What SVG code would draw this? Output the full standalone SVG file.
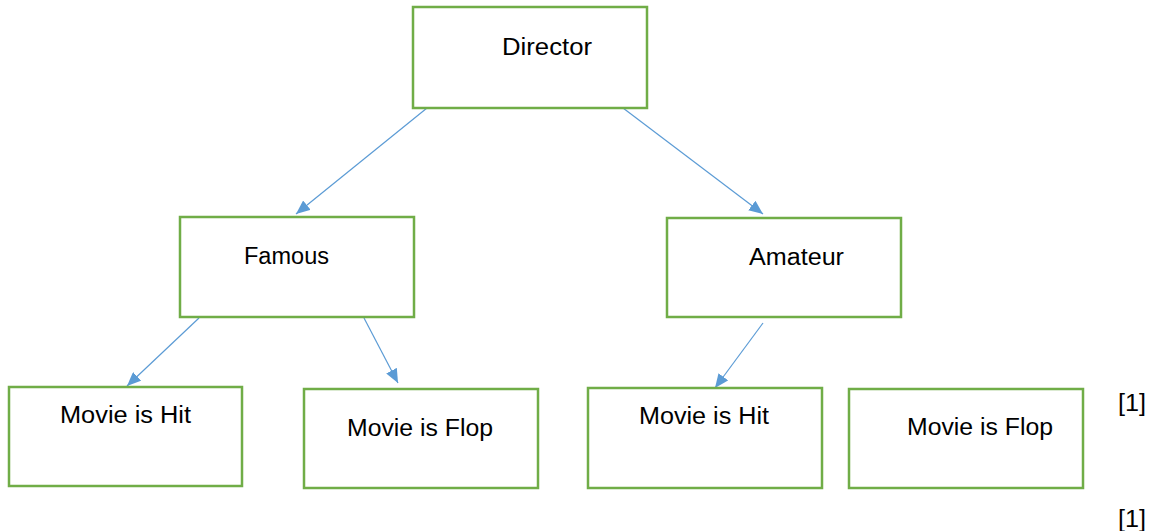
<svg xmlns="http://www.w3.org/2000/svg" width="1152" height="531" viewBox="0 0 1152 531">
<defs>
<style>
.box{fill:#ffffff;stroke:#70AD47;stroke-width:2.5}
.lbl{font-family:"Liberation Sans",Arial,sans-serif;font-size:23.5px;fill:#000000}
.edge{stroke:#5B9BD5;stroke-width:1.2;fill:none}
</style>
<marker id="ah" markerUnits="userSpaceOnUse" markerWidth="14" markerHeight="12" refX="14" refY="6" orient="auto">
<path d="M0,0 L14,6 L0,12 z" fill="#5B9BD5"/>
</marker>
</defs>
<rect width="1152" height="531" fill="#ffffff"/>
<g id="connectors">
<line class="edge" x1="427" y1="108" x2="296" y2="214" marker-end="url(#ah)"/>
<line class="edge" x1="623" y1="108" x2="763" y2="214" marker-end="url(#ah)"/>
<line class="edge" x1="199" y1="318" x2="127" y2="386" marker-end="url(#ah)"/>
<line class="edge" x1="364" y1="318" x2="398" y2="383" marker-end="url(#ah)"/>
<line class="edge" x1="763" y1="323" x2="715" y2="388" marker-end="url(#ah)"/>
</g>
<g id="director">
<rect class="box" x="413" y="7" width="234" height="101"/>
<text class="lbl" x="502" y="55" textLength="90" lengthAdjust="spacingAndGlyphs">Director</text>
</g>
<g id="famous">
<rect class="box" x="180" y="217" width="234" height="100"/>
<text class="lbl" x="244" y="264" textLength="85" lengthAdjust="spacingAndGlyphs">Famous</text>
</g>
<g id="amateur">
<rect class="box" x="667" y="218" width="234" height="99"/>
<text class="lbl" x="749" y="265" textLength="95" lengthAdjust="spacingAndGlyphs">Amateur</text>
</g>
<g id="hit1">
<rect class="box" x="9" y="387" width="233" height="99"/>
<text class="lbl" x="60" y="423" textLength="131" lengthAdjust="spacingAndGlyphs">Movie is Hit</text>
</g>
<g id="flop1">
<rect class="box" x="304" y="389" width="234" height="99"/>
<text class="lbl" x="347" y="436" textLength="146" lengthAdjust="spacingAndGlyphs">Movie is Flop</text>
</g>
<g id="hit2">
<rect class="box" x="588" y="388" width="234" height="100"/>
<text class="lbl" x="639" y="424" textLength="130" lengthAdjust="spacingAndGlyphs">Movie is Hit</text>
</g>
<g id="flop2">
<rect class="box" x="849" y="389" width="234" height="99"/>
<text class="lbl" x="907" y="435" textLength="146" lengthAdjust="spacingAndGlyphs">Movie is Flop</text>
</g>
<g id="marks">
<text class="lbl" x="1118" y="411" textLength="28" lengthAdjust="spacingAndGlyphs">[1]</text>
<text class="lbl" x="1118" y="527" textLength="28" lengthAdjust="spacingAndGlyphs">[1]</text>
</g>
</svg>
